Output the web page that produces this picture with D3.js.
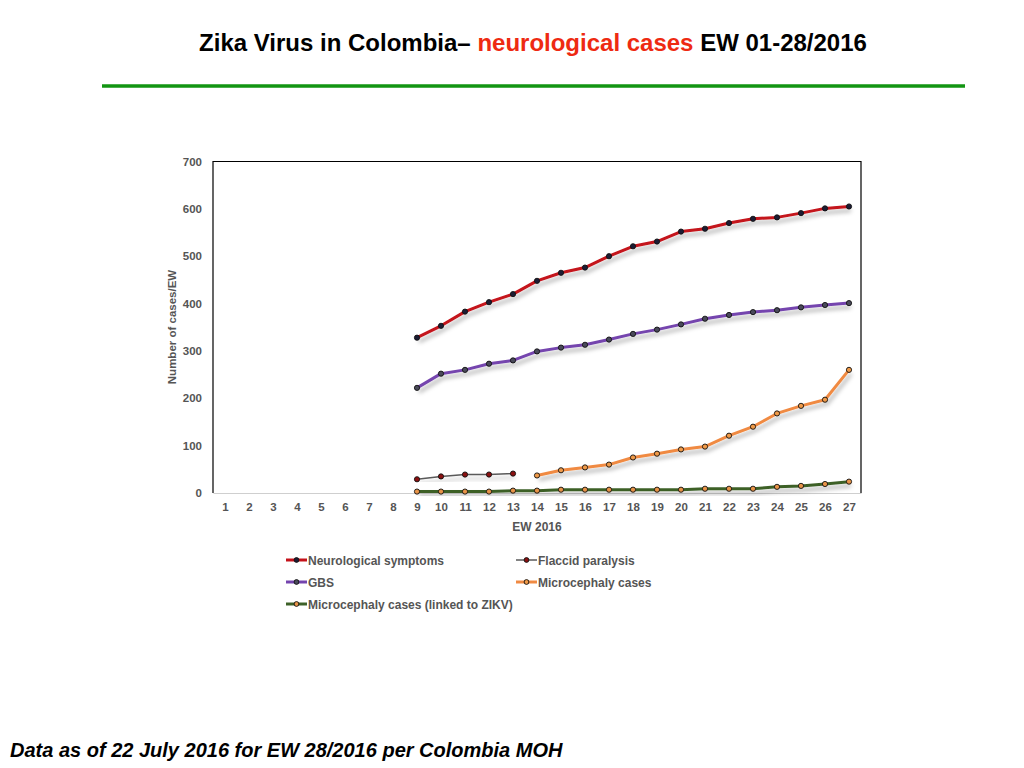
<!DOCTYPE html>
<html>
<head>
<meta charset="utf-8">
<script src="https://cdn.jsdelivr.net/npm/d3@7"></script>
<style>
  body { margin: 0; background: #fff; }
  svg { font-family: "Liberation Sans", Arial, sans-serif; }
</style>
</head>
<body>
<div id="vis"></div>
<script>
// epidemiological weeks 1..27
var weeks = d3.range(1, 28);
var yTicks = [0, 100, 200, 300, 400, 500, 600, 700];

// values per week, null where no data
var neuro = [null,null,null,null,null,null,null,null,
  328,353,383,403,420,448,465,476,500,521,531,552,558,570,579,582,591,601,605];
var flaccid = [null,null,null,null,null,null,null,null,
  29,35,39,39,41,null,null,null,null,null,null,null,null,null,null,null,null,null,null];
var gbs = [null,null,null,null,null,null,null,null,
  222,252,260,273,280,299,307,313,324,336,345,356,368,376,382,386,392,397,401];
var micro = [null,null,null,null,null,null,null,null,null,null,null,null,null,
  37,48,54,60,75,83,92,98,121,140,168,184,197,260];
var microZikv = [null,null,null,null,null,null,null,null,
  3,3,3,3,5,5,7,7,7,7,7,7,9,9,9,13,15,19,24];

var seriesNames = ["Neurological symptoms", "Flaccid paralysis", "GBS",
  "Microcephaly cases", "Microcephaly cases (linked to ZIKV)"];

var series = [
  {name: seriesNames[0], values: neuro, color: "#c4121a", width: 3, dot: "#1c1c34"},
  {name: seriesNames[1], values: flaccid, color: "#5a5a5a", width: 1.5, dot: "#8a1010"},
  {name: seriesNames[2], values: gbs, color: "#7444ae", width: 3, dot: "#4a4a5a"},
  {name: seriesNames[3], values: micro, color: "#f08a42", width: 3, dot: "#f09a48"},
  {name: seriesNames[4], values: microZikv, color: "#3d6128", width: 3, dot: "#e89448"}
];

var width = 1024, height = 768;
var plot = {left: 213, top: 161.5, right: 861, bottom: 493};
var labelFont = "'Liberation Sans', Arial, sans-serif";

var svg = d3.select("#vis").append("svg")
  .attr("width", width)
  .attr("height", height);

var defs = svg.append("defs");
var shadow = defs.append("filter")
  .attr("id", "shadow")
  .attr("x", "-10%").attr("y", "-10%")
  .attr("width", "130%").attr("height", "150%");
shadow.append("feDropShadow")
  .attr("dx", 2).attr("dy", 4)
  .attr("stdDeviation", 2)
  .attr("flood-color", "#000")
  .attr("flood-opacity", 0.3);

// title
var title = svg.append("text")
  .attr("x", 533)
  .attr("y", 51)
  .attr("text-anchor", "middle")
  .style("font-size", "24px")
  .style("font-weight", "bold")
  .style("font-family", labelFont);
title.append("tspan").attr("fill", "#000").text("Zika Virus in Colombia\u2013 ");
title.append("tspan").attr("fill", "#ee2a12").text("neurological cases");
title.append("tspan").attr("fill", "#000").text(" EW 01-28/2016");

svg.append("line")
  .attr("x1", 102).attr("x2", 965)
  .attr("y1", 86).attr("y2", 86)
  .attr("stroke", "#129512")
  .attr("stroke-width", 3.5);

// scales
var x = d3.scalePoint()
  .domain(weeks)
  .range([plot.left, plot.right])
  .padding(0.5);

var y = d3.scaleLinear()
  .domain([0, 700])
  .range([plot.bottom, plot.top]);

// plot frame
svg.append("path")
  .attr("d", "M" + plot.left + "," + plot.bottom + "V" + plot.top + "H" + plot.right + "V" + plot.bottom)
  .attr("fill", "none")
  .attr("stroke", "#000")
  .attr("stroke-width", 1.2);

// x axis
var xAxis = svg.append("g")
  .attr("transform", "translate(0," + plot.bottom + ")")
  .call(d3.axisBottom(x).tickSize(0).tickPadding(10));
xAxis.select(".domain").attr("stroke", "#cfcfcf").attr("stroke-width", 1.2);
xAxis.selectAll("text")
  .attr("fill", "#555")
  .style("font-size", "11.5px")
  .style("font-weight", "bold")
  .style("font-family", labelFont);

// y axis
var yAxis = svg.append("g")
  .attr("transform", "translate(" + plot.left + ",0)")
  .call(d3.axisLeft(y).tickValues(yTicks).tickSize(0).tickPadding(11));
yAxis.select(".domain").remove();
yAxis.selectAll("text")
  .attr("fill", "#555")
  .style("font-size", "11.5px")
  .style("font-weight", "bold")
  .style("font-family", labelFont);

// axis titles
svg.append("text")
  .attr("x", 537)
  .attr("y", 531)
  .attr("text-anchor", "middle")
  .attr("fill", "#555")
  .style("font-size", "12px")
  .style("font-weight", "bold")
  .text("EW 2016");

svg.append("text")
  .attr("transform", "translate(176,327) rotate(-90)")
  .attr("text-anchor", "middle")
  .attr("fill", "#555")
  .style("font-size", "11.5px")
  .style("font-weight", "bold")
  .text("Number of cases/EW");

// lines
var line = d3.line()
  .defined(function(d) { return d != null; })
  .x(function(d, i) { return x(weeks[i]); })
  .y(function(d) { return y(d); });

var lines = svg.append("g");
series.forEach(function(s) {
  var g = lines.append("g").attr("filter", "url(#shadow)");
  g.append("path")
    .datum(s.values)
    .attr("fill", "none")
    .attr("stroke", s.color)
    .attr("stroke-width", s.width)
    .attr("stroke-linejoin", "round")
    .attr("d", line);
});

series.forEach(function(s) {
  var pts = s.values.map(function(v, i) { return {w: weeks[i], v: v}; })
    .filter(function(d) { return d.v != null; });
  svg.append("g").selectAll("circle")
    .data(pts)
    .enter().append("circle")
      .attr("cx", function(d) { return x(d.w); })
      .attr("cy", function(d) { return y(d.v); })
      .attr("r", 2.6)
      .attr("fill", s.dot)
      .attr("stroke", "#111")
      .attr("stroke-width", 0.9);
});

// legend
var legendPos = [[286, 560], [516, 560], [286, 582], [516, 582], [286, 604]];
var legend = svg.selectAll(".legend")
  .data(series)
  .enter().append("g")
  .attr("class", "legend")
  .attr("transform", function(d, i) { return "translate(" + legendPos[i][0] + "," + legendPos[i][1] + ")"; });

legend.append("line")
  .attr("x1", 0).attr("x2", 21)
  .attr("stroke", function(d) { return d.color; })
  .attr("stroke-width", function(d) { return d.width; });
legend.append("circle")
  .attr("cx", 10.5)
  .attr("r", 2.4)
  .attr("fill", function(d) { return d.dot; })
  .attr("stroke", "#111")
  .attr("stroke-width", 0.9);
legend.append("text")
  .attr("x", 22)
  .attr("y", 4.5)
  .attr("fill", "#555")
  .style("font-size", "12px")
  .style("font-weight", "bold")
  .text(function(d) { return d.name; });

// footer
svg.append("text")
  .attr("x", 10)
  .attr("y", 757)
  .attr("fill", "#000")
  .style("font-size", "20px")
  .style("font-weight", "bold")
  .style("font-style", "italic")
  .text("Data as of 22 July 2016 for EW 28/2016 per Colombia MOH");
</script>
</body>
</html>
